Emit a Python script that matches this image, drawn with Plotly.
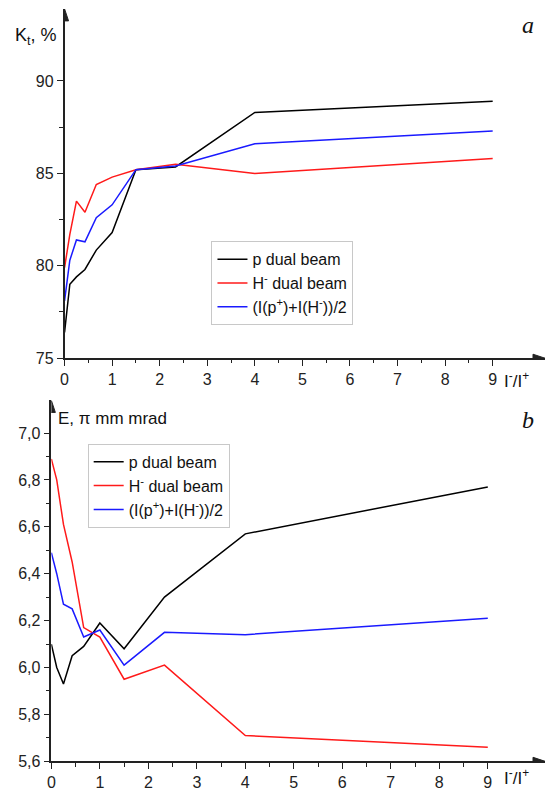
import plotly.graph_objects as go

# ratio I-/I+
ratio = [0, 0.111, 0.25, 0.429, 0.667, 1.0, 1.5, 2.333, 4.0, 9.0]

# panel a: Kt, %
kt_p = [76.4, 79.0, 79.4, 79.8, 80.85, 81.8, 85.2, 85.35, 88.3, 88.9]
kt_h = [79.9, 81.7, 83.5, 82.9, 84.4, 84.8, 85.2, 85.5, 85.0, 85.8]
kt_avg = [78.1, 80.3, 81.4, 81.3, 82.6, 83.3, 85.2, 85.4, 86.6, 87.3]

# panel b: emittance E, pi mm mrad
e_p = [6.10, 6.00, 5.93, 6.05, 6.09, 6.19, 6.08, 6.30, 6.57, 6.77]
e_h = [6.89, 6.80, 6.61, 6.45, 6.17, 6.13, 5.95, 6.01, 5.71, 5.66]
e_avg = [6.49, 6.40, 6.27, 6.25, 6.13, 6.16, 6.01, 6.15, 6.14, 6.21]

names = ["p dual beam", "H<sup>-</sup> dual beam", "(I(p<sup>+</sup>)+I(H<sup>-</sup>))/2"]
colors = ["#000000", "#ff1a1a", "#1a1aff"]

kt_ticks = [75, 80, 85, 90]
kt_minor = [77.5, 82.5, 87.5]
e_ticks = [5.6, 5.8, 6.0, 6.2, 6.4, 6.6, 6.8, 7.0]
e_ticklabels = ["5,6", "5,8", "6,0", "6,2", "6,4", "6,6", "6,8", "7,0"]
e_minor = [5.7, 5.9, 6.1, 6.3, 6.5, 6.7, 6.9]
x_ticks = list(range(10))
x_minor = [i + 0.5 for i in range(9)]

W, H = 546, 796
FONT = "Arial, Liberation Sans, sans-serif"

fig = go.Figure()
for ys, n, c in zip([kt_p, kt_h, kt_avg], names, colors):
    fig.add_trace(go.Scatter(x=ratio, y=ys, mode="lines", name=n,
                             line=dict(color=c, width=1.5),
                             xaxis="x", yaxis="y", legend="legend"))
for ys, n, c in zip([e_p, e_h, e_avg], names, colors):
    fig.add_trace(go.Scatter(x=ratio, y=ys, mode="lines", name=n,
                             line=dict(color=c, width=1.5),
                             xaxis="x2", yaxis="y2", legend="legend2"))

axis_common = dict(showline=True, linecolor="#222", linewidth=1.5, showgrid=False,
                   zeroline=False, ticks="outside", ticklen=6, tickwidth=1.3,
                   tickcolor="#222", tickfont=dict(family=FONT, size=16, color="#222"),
                   tickmode="array")
minor_common = dict(ticks="outside", ticklen=3.5, tickwidth=1.2, tickcolor="#222")

# pixel layout of the two panels
top_x0, top_x1 = 61, 545
top_yb, top_yt = 362.3, 9
bot_x0, bot_x1 = 47.7, 545
bot_yb, bot_yt = 770, 405

fig.update_layout(
    width=W, height=H, margin=dict(l=0, r=0, t=0, b=0),
    paper_bgcolor="white", plot_bgcolor="white",
    xaxis=dict(domain=[top_x0 / W, top_x1 / W], range=[0, 10.1], anchor="y",
               tickvals=x_ticks, ticktext=[str(v) for v in x_ticks],
               minor=dict(tickvals=x_minor, **minor_common), **axis_common),
    yaxis=dict(domain=[(H - top_yb) / H, (H - top_yt) / H], range=[75, 93.9], anchor="x",
               tickvals=kt_ticks, ticktext=[str(v) for v in kt_ticks],
               minor=dict(tickvals=kt_minor, **minor_common), **axis_common),
    xaxis2=dict(domain=[bot_x0 / W, bot_x1 / W], range=[0, 10.18], anchor="y2",
                tickvals=x_ticks, ticktext=[str(v) for v in x_ticks],
                minor=dict(tickvals=x_minor, **minor_common), **axis_common),
    yaxis2=dict(domain=[(H - bot_yb) / H, (H - bot_yt) / H], range=[5.6, 7.139], anchor="x2",
                tickvals=e_ticks, ticktext=e_ticklabels,
                minor=dict(tickvals=e_minor, **minor_common), **axis_common),
    legend=dict(x=209 / W, y=(H - 244) / H, xanchor="left", yanchor="top",
                bgcolor="white", bordercolor="#c8c8c8", borderwidth=1,
                font=dict(family=FONT, size=16, color="#111"), tracegroupgap=0,
                itemwidth=30),
    legend2=dict(x=84.3 / W, y=(H - 449) / H, xanchor="left", yanchor="top",
                 bgcolor="white", bordercolor="#c8c8c8", borderwidth=1,
                 font=dict(family=FONT, size=16, color="#111"), tracegroupgap=0,
                 itemwidth=30),
    showlegend=True,
)

# axis arrowheads as pixel-sized shapes
shapes = []
for xr, yr, xv, yv, path in [
    ("x", "y", 0, 93.9, "M -4,-12 L 0,0 L 4,-12 Z"),
    ("x", "y", 10.1, 75, "M -12,-4 L 0,0 L -12,4 Z"),
    ("x2", "y2", 0, 7.139, "M -4,-12 L 0,0 L 4,-12 Z"),
    ("x2", "y2", 10.18, 5.6, "M -12,-4 L 0,0 L -12,4 Z"),
]:
    shapes.append(dict(type="path", xref=xr, yref=yr, xsizemode="pixel", ysizemode="pixel",
                       xanchor=xv, yanchor=yv, path=path, fillcolor="#222",
                       line=dict(color="#222", width=1)))


def txt(x, y, s, size=17, family=FONT, xanchor="left", italic=False):
    return dict(x=x / W, y=(H - y) / H, xref="paper", yref="paper", text=s,
                showarrow=False, xanchor=xanchor, yanchor="middle",
                font=dict(family=family, size=size, color="#111",
                          style="italic" if italic else "normal"))


ann = [
    txt(9, 37, "K<sub>t</sub>, %", size=18),
    txt(52, 423, "E, π mm mrad", size=17),
    txt(502, 384, "I<sup>-</sup>/I<sup>+</sup>", size=17),
    txt(502, 786, "I<sup>-</sup>/I<sup>+</sup>", size=17),
    txt(520, 25, "a", size=24, family="Liberation Serif, Times New Roman, serif", italic=True),
    txt(520, 425, "b", size=24, family="Liberation Serif, Times New Roman, serif", italic=True),
]
fig.update_layout(annotations=ann, shapes=shapes)

fig.write_html("out.html")
